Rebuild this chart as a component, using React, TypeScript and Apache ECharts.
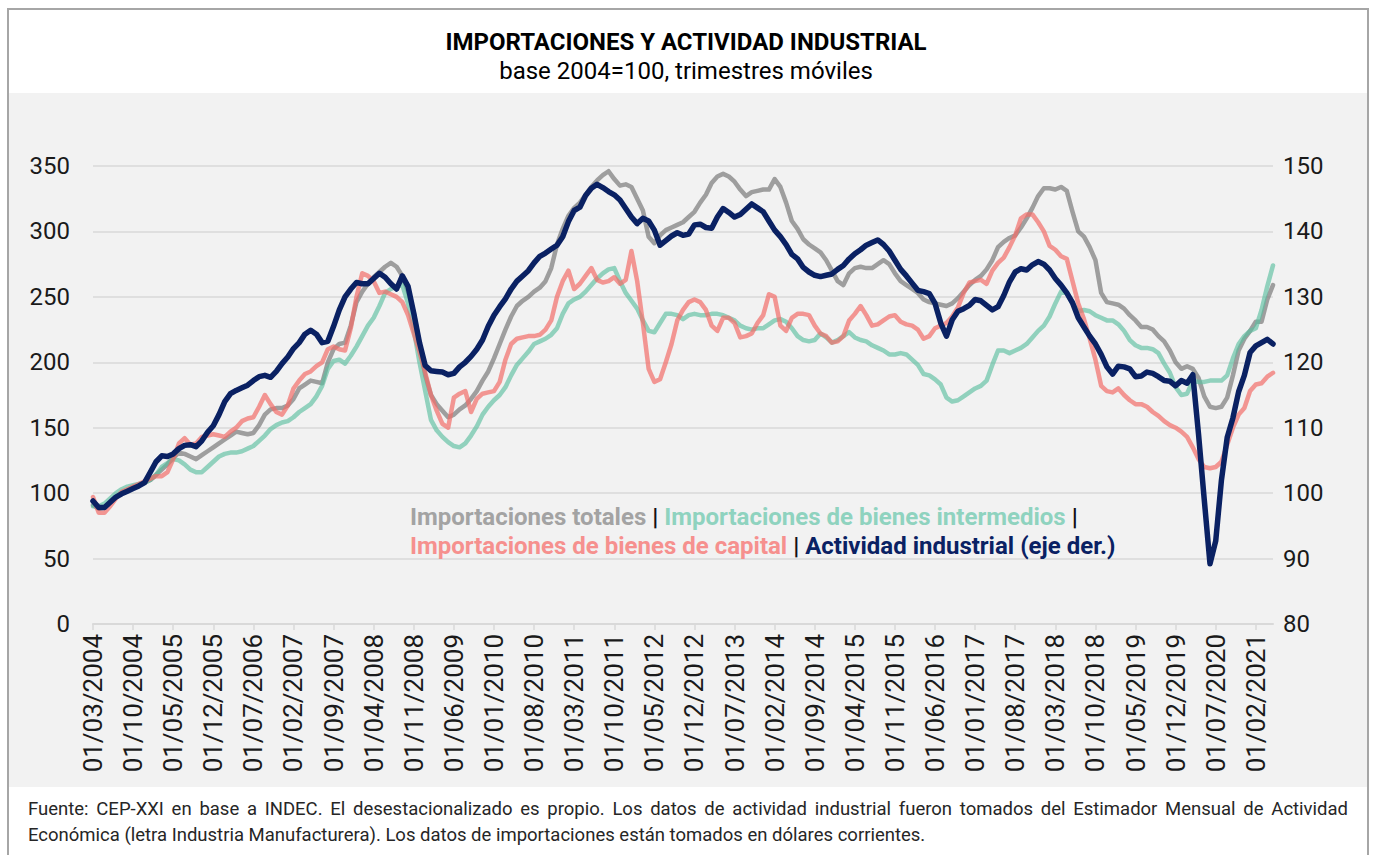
import React, { useEffect, useRef } from "react";
import * as echarts from "echarts";

const FONT = 'Roboto, "Noto Sans", "DejaVu Sans", sans-serif';

const START_YEAR = 2004;
const START_MONTH = 3;
const N_POINTS = 207;
const categories: string[] = [];
for (let i = 0; i < N_POINTS; i++) {
  const m0 = START_MONTH - 1 + i;
  const y = START_YEAR + Math.floor(m0 / 12);
  const m = (m0 % 12) + 1;
  categories.push(`01/${m < 10 ? "0" + m : m}/${y}`);
}

const totales = [
  91, 88, 89, 93, 97, 100, 102, 104, 106, 108,
  110, 114, 118, 122, 127, 131, 130, 128, 126, 129,
  132, 135, 138, 141, 144, 147, 146, 145, 146, 152,
  160, 164, 165, 165, 167, 172, 180, 183, 186, 185,
  184, 200, 210, 214, 215, 228, 246, 254, 260, 265,
  269, 273, 276, 273, 266, 254, 238, 214, 190, 175,
  168, 163, 158, 160, 164, 167, 172, 178, 186, 193,
  203, 214, 225, 235, 243, 247, 250, 254, 257, 262,
  272, 290, 302, 312, 318, 322, 328, 334, 339, 343,
  346, 340, 335, 336, 334, 325, 316, 296, 291, 297,
  301, 303, 305, 307, 311, 315, 322, 328, 337, 342,
  344, 342, 338, 332, 327, 330, 331, 332, 332, 340,
  334, 322, 308, 302, 294, 290, 287, 284, 278, 270,
  262, 259, 268, 272, 273, 272, 272, 275, 278, 275,
  268, 262, 259, 256, 253, 248, 246, 245, 244, 243,
  245, 249, 254, 259, 263, 266, 271, 278, 288, 292,
  295, 297, 303, 310, 318, 327, 333, 333, 332, 334,
  331, 315, 300, 296, 288, 278, 253, 246, 245, 244,
  241, 236, 232, 227, 227, 225, 220, 216, 209, 200,
  195, 197, 195, 188, 174, 166, 165, 166, 173, 190,
  209, 218, 224, 231, 231, 248, 259,
];

const intermedios = [
  90, 90, 92, 96, 100, 103, 105, 106, 107, 108,
  110, 114, 120, 123, 126, 125, 122, 118, 116, 116,
  120, 124, 128, 130, 131, 131, 132, 134, 136, 140,
  144, 149, 152, 154, 155, 158, 162, 165, 168, 174,
  182, 195, 201, 202, 199, 205, 212, 220, 228, 234,
  243, 253, 256, 258, 259, 245, 225, 200, 178, 156,
  148, 143, 139, 136, 135, 138, 144, 151, 160, 166,
  171, 175, 181, 190, 198, 203, 208, 214, 216, 218,
  221, 226, 237, 245, 248, 250, 254, 259, 264, 268,
  271, 272, 262, 253, 247, 241, 232, 224, 223, 230,
  237, 237, 236, 233, 236, 237, 236, 236, 237, 237,
  236, 234, 232, 228, 226, 225, 226, 226, 229, 232,
  233, 231, 226, 220, 217, 216, 217, 222, 219, 215,
  217, 220, 223, 219, 217, 216, 213, 211, 209, 206,
  206, 207, 206, 202, 198, 191, 190, 187, 183, 173,
  170, 171, 174, 177, 180, 182, 186, 198, 209, 209,
  207, 209, 211, 214, 219, 224, 228, 235, 245, 254,
  253, 245, 239, 240, 239, 236, 234, 232, 232, 229,
  224, 217, 213, 211, 211, 210, 207, 199, 192, 181,
  175, 176, 186, 185, 185, 186, 186, 186, 190, 203,
  214, 220, 224, 226, 240, 258, 274,
];

const capital = [
  97, 85, 85, 90, 96, 101, 103, 105, 107, 109,
  111, 113, 113, 116, 126, 138, 142, 137, 138, 143,
  144, 145, 144, 143, 147, 150, 155, 157, 158, 166,
  175, 168, 162, 160, 167, 180, 186, 191, 193, 197,
  200, 210, 212, 210, 209, 226, 250, 268, 266, 262,
  253, 254, 252, 250, 246, 236, 222, 208, 192, 175,
  163, 153, 150, 173, 176, 178, 162, 172, 176, 177,
  178, 185, 202, 214, 218, 219, 220, 220, 221, 225,
  232, 250, 262, 270, 256, 260, 266, 272, 263, 261,
  262, 265, 260, 263, 285, 262, 230, 195, 185, 187,
  200, 214, 232, 240, 246, 248, 246, 240, 228, 224,
  234, 234, 230, 219, 220, 222, 230, 236, 252, 250,
  228, 224, 234, 237, 237, 236, 228, 222, 220, 215,
  216, 220, 232, 237, 243, 236, 228, 229, 232, 235,
  236, 231, 229, 228, 225, 218, 220, 226, 228, 230,
  235, 242, 253, 261, 262, 263, 260, 270, 276, 280,
  288, 297, 310, 313, 313, 307, 300, 289, 286, 281,
  279, 262, 245, 233, 218, 202, 182, 178, 177, 180,
  175, 171, 168, 168, 166, 162, 159, 155, 152, 150,
  147, 143, 135, 126, 120, 119, 120, 124, 137, 150,
  160, 165, 178, 183, 184, 189, 192,
];

const actividad = [
  98.8, 97.8, 97.8, 98.6, 99.4, 99.9, 100.3, 100.7, 101.1, 101.6,
  103.2, 104.8, 105.7, 105.6, 106.0, 106.8, 107.3, 107.4, 107.1, 108.0,
  109.3, 110.3, 112.0, 114.0, 115.2, 115.7, 116.1, 116.5, 117.2, 117.8,
  118.0, 117.7, 118.6, 119.8, 120.8, 122.1, 123.0, 124.3, 124.9, 124.3,
  123.0, 123.2, 125.5, 128.0, 130.0, 131.2, 132.2, 132.0, 132.0, 132.8,
  133.6, 133.0, 132.0, 131.2, 133.2, 131.6, 127.5, 123.0, 119.5, 118.7,
  118.6, 118.5, 118.1, 118.3, 119.3, 120.0, 120.9, 122.0, 123.4, 125.5,
  127.2, 128.5, 129.7, 131.2, 132.4, 133.2, 134.0, 135.2, 136.2, 136.7,
  137.3, 137.9, 139.2, 141.5, 143.2, 143.7, 145.5, 146.6, 147.2, 146.7,
  146.1, 145.6, 144.8, 143.5, 142.2, 141.2, 142.0, 141.6, 140.2, 137.9,
  138.6, 139.3, 139.8, 139.4, 139.6, 141.0, 141.1, 140.6, 140.5, 142.2,
  143.5, 142.9, 142.2, 142.6, 143.4, 144.2, 143.6, 143.0, 141.6, 140.2,
  139.2, 138.0, 136.5, 135.8, 134.5, 133.8, 133.3, 133.1, 133.3, 133.5,
  134.2, 134.8, 135.8, 136.6, 137.2, 137.9, 138.3, 138.7, 138.0, 137.0,
  135.6, 134.2, 133.2, 132.1, 131.0, 130.8, 130.5, 129.0, 126.0, 124.0,
  126.5, 127.8, 128.2, 128.7, 129.6, 129.4, 128.7, 128.0, 128.5, 130.2,
  132.3, 133.8, 134.3, 134.1, 134.9, 135.4, 135.0, 134.1, 132.8, 131.8,
  130.6, 129.1, 126.8, 125.4, 124.0, 122.8, 121.2, 119.3, 118.2, 119.4,
  119.3, 119.0, 117.8, 117.9, 118.5, 118.3, 117.8, 117.2, 117.1, 116.4,
  117.2, 116.8, 118.1, 109.0, 99.0, 89.2, 92.7, 102.0, 108.5, 111.5,
  115.5, 118.0, 121.5, 122.5, 123.0, 123.5, 122.8,
];

const TITLE = "IMPORTACIONES Y ACTIVIDAD INDUSTRIAL";
const SUBTITLE = "base 2004=100, trimestres móviles";
const SERIES_NAMES = [
  "Importaciones totales",
  "Importaciones de bienes intermedios",
  "Importaciones de bienes de capital",
  "Actividad industrial (eje der.)",
];
const FOOTER_1 =
  "Fuente: CEP-XXI en base a INDEC. El desestacionalizado es propio. Los datos de actividad industrial fueron tomados del Estimador Mensual de Actividad";
const FOOTER_2 =
  "Económica (letra Industria Manufacturera). Los datos de importaciones están tomados en dólares corrientes.";

const C_GRAY = "#7d7d7d";
const C_GREEN = "#5cbf9f";
const C_RED = "#f26e6a";
const C_NAVY = "#0a2163";

function measure(s: string, font: string): number {
  const c = document.createElement("canvas").getContext("2d");
  if (!c) return s.length * 8;
  c.font = font;
  return c.measureText(s).width;
}

export default function App() {
  const ref = useRef<HTMLDivElement>(null);

  useEffect(() => {
    if (!ref.current) return;
    const chart = echarts.init(ref.current, undefined, { renderer: "svg" });

    const footSize = 18.5;
    const footFont = `${footSize}px Roboto`;
    const words = FOOTER_1.split(" ");
    const widths = words.map((w) => measure(w, footFont));
    const total = widths.reduce((a, b) => a + b, 0);
    const x0 = 28;
    const x1 = 1348;
    const gap = (x1 - x0 - total) / (words.length - 1);
    const footerWords: any[] = [];
    let cx = x0;
    words.forEach((w, k) => {
      footerWords.push({
        type: "text",
        x: cx,
        y: 809,
        silent: true,
        style: {
          text: w,
          fill: "#262626",
          fontSize: footSize,
          fontFamily: FONT,
          textAlign: "left",
          textVerticalAlign: "middle",
          align: "left",
          verticalAlign: "middle",
        },
      });
      cx += widths[k] + gap;
    });

    const lineSeries = (name: string, data: number[], color: string, width: number, opacity: number, yAxisIndex = 0) => ({
      name,
      type: "line",
      data,
      yAxisIndex,
      showSymbol: false,
      symbol: "none",
      smooth: false,
      lineStyle: { color, width, opacity, cap: "round", join: "round" },
      itemStyle: { color },
      emphasis: { disabled: true },
    });

    const LEG = 24;
    const option: any = {
      animation: false,
      backgroundColor: "#ffffff",
      textStyle: { fontFamily: FONT },
      grid: { left: 93, right: 100, top: 166, bottom: 231, containLabel: false },
      xAxis: {
        type: "category",
        data: categories,
        boundaryGap: false,
        axisLine: { lineStyle: { color: "#d9d9d9", width: 2 } },
        axisTick: { show: true, interval: 6, length: 6, lineStyle: { color: "#d9d9d9", width: 1.5 } },
        axisLabel: {
          interval: 6,
          rotate: 90,
          fontSize: 26,
          color: "#1a1a1a",
          fontFamily: FONT,
          margin: 10,
        },
        splitLine: { show: false },
      },
      yAxis: [
        {
          type: "value",
          min: 0,
          max: 350,
          interval: 50,
          axisLine: { show: false },
          axisTick: { show: false },
          axisLabel: { fontSize: 24, color: "#1a1a1a", fontFamily: FONT, margin: 23 },
          splitLine: { lineStyle: { color: "#d9d9d9", width: 1.5 } },
        },
        {
          type: "value",
          min: 80,
          max: 150,
          interval: 10,
          position: "right",
          axisLine: { show: false },
          axisTick: { show: false },
          axisLabel: { fontSize: 24, color: "#1a1a1a", fontFamily: FONT, margin: 10 },
          splitLine: { show: false },
        },
      ],
      series: [
        lineSeries(SERIES_NAMES[0], totales, C_GRAY, 4.5, 0.72),
        lineSeries(SERIES_NAMES[1], intermedios, C_GREEN, 4.5, 0.65),
        lineSeries(SERIES_NAMES[2], capital, C_RED, 4.5, 0.7),
        lineSeries(SERIES_NAMES[3], actividad, C_NAVY, 5.5, 1, 1),
      ],
      graphic: [
        {
          type: "rect",
          z: -100,
          silent: true,
          shape: { x: 9, y: 93, width: 1359, height: 694 },
          style: { fill: "#f2f2f2" },
        },
        {
          type: "rect",
          z: 100,
          silent: true,
          shape: { x: 8, y: 9, width: 1360, height: 900 },
          style: { fill: "none", stroke: "#a6a6a6", lineWidth: 2 },
        },
        {
          type: "text",
          x: 686,
          y: 42,
          silent: true,
          style: {
            text: TITLE,
            fill: "#000000",
            fontSize: 24,
            fontWeight: "bold",
            fontFamily: FONT,
            textAlign: "center",
            textVerticalAlign: "middle",
            align: "center",
            verticalAlign: "middle",
          },
        },
        {
          type: "text",
          x: 686,
          y: 71,
          silent: true,
          style: {
            text: SUBTITLE,
            fill: "#000000",
            fontSize: 24,
            fontFamily: FONT,
            textAlign: "center",
            textVerticalAlign: "middle",
            align: "center",
            verticalAlign: "middle",
          },
        },
        {
          type: "text",
          x: 410,
          y: 502,
          z: 50,
          silent: true,
          style: {
            text:
              `{g|${SERIES_NAMES[0]}} {k||} {t|${SERIES_NAMES[1]}} {k||}\n` +
              `{r|${SERIES_NAMES[2]}} {k||} {n|${SERIES_NAMES[3]}}`,
            fontSize: LEG,
            fontWeight: "bold",
            fontFamily: FONT,
            lineHeight: 29,
            textAlign: "left",
            align: "left",
            rich: {
              g: { fill: "#a3a3a3", fontSize: LEG, fontWeight: "bold", fontFamily: FONT, lineHeight: 29 },
              t: { fill: "#8fd3bf", fontSize: LEG, fontWeight: "bold", fontFamily: FONT, lineHeight: 29 },
              r: { fill: "#f6908e", fontSize: LEG, fontWeight: "bold", fontFamily: FONT, lineHeight: 29 },
              n: { fill: C_NAVY, fontSize: LEG, fontWeight: "bold", fontFamily: FONT, lineHeight: 29 },
              k: { fill: "#111111", fontSize: LEG, fontWeight: "bold", fontFamily: FONT, lineHeight: 29 },
            },
          },
        },
        ...footerWords,
        {
          type: "text",
          x: 28,
          y: 835,
          silent: true,
          style: {
            text: FOOTER_2,
            fill: "#262626",
            fontSize: footSize,
            fontFamily: FONT,
            textAlign: "left",
            textVerticalAlign: "middle",
            align: "left",
            verticalAlign: "middle",
          },
        },
      ],
    };

    chart.setOption(option);
    return () => {
      chart.dispose();
    };
  }, []);

  return (
    <div
      ref={ref}
      style={{ position: "absolute", left: 0, top: 0, width: 1373, height: 855 }}
    />
  );
}
